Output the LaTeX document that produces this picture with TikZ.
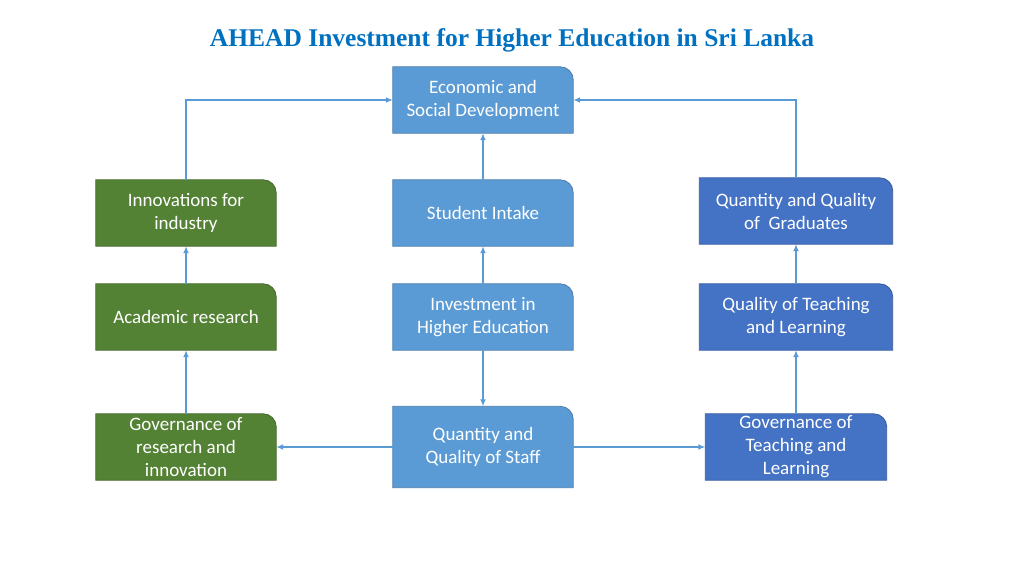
\documentclass[tikz,border=0pt]{standalone}
\usepackage{fontspec}
\setmainfont{Carlito}
\newfontfamily\titlefont{Liberation Serif}
\usetikzlibrary{arrows.meta,backgrounds}
\definecolor{lightblue}{HTML}{5B9BD5}
\definecolor{darkblue}{HTML}{4472C4}
\definecolor{leafgreen}{HTML}{548235}
\definecolor{titleblue}{HTML}{0070C0}

\begin{document}
\begin{tikzpicture}[x=1pt,y=-1pt,
  box/.style={minimum width=180pt,minimum height=66pt,inner sep=0pt,align=center,
    text=white,font=\fontsize{19}{23}\selectfont},
  link/.style={draw=lightblue,line width=1.6pt,-{Latex[length=7pt,width=6pt]}}]
\useasboundingbox (0,0) rectangle (1024,575);

\node[font=\titlefont\bfseries\fontsize{25.5}{30}\selectfont,text=titleblue] (title) at (512,40) {AHEAD Investment for Higher Education in Sri Lanka};

\node[box] (econ) at (483,100) {Economic and\\Social Development};
\node[box] (innov) at (186,213) {Innovations for\\industry};
\node[box] (intake) at (483,213) {Student Intake};
\node[box,minimum width=193pt] (grad) at (796,211) {Quantity and Quality\\of~ Graduates};
\node[box] (acad) at (186,317) {Academic research};
\node[box] (invest) at (483,317) {Investment in\\Higher Education};
\node[box,minimum width=193pt] (qtl) at (796,317) {Quality of Teaching\\and Learning};
\node[box] (govres) at (186,447) {Governance of\\research and\\innovation};
\node[box,minimum height=81pt] (staff) at (483,447) {Quantity and\\Quality of Staff};
\node[box,minimum width=181pt] (govtl) at (796,447) {Governance of\\Teaching and\\Learning};

% boxes with one rounded corner
\begin{scope}[on background layer]
\foreach \n/\c in {econ/lightblue,intake/lightblue,invest/lightblue,staff/lightblue,
  innov/leafgreen,acad/leafgreen,govres/leafgreen,
  grad/darkblue,qtl/darkblue,govtl/darkblue}
  \draw[fill=\c,draw=\c!80!black,line width=0.8pt] (\n.south west) -- (\n.north west)
    -- ([xshift=-13pt]\n.north east)
    .. controls ([xshift=-5.8pt]\n.north east) and ([yshift=-5.8pt]\n.north east) .. ([yshift=-13pt]\n.north east)
    -- (\n.south east) -- cycle;
\end{scope}

\draw[link] (innov.north) |- (econ.west);
\draw[link] (grad.north) |- (econ.east);
\draw[link] (intake.north) -- (econ.south);
\draw[link] (invest.north) -- (intake.south);
\draw[link] (invest.south) -- (staff.north);
\draw[link] (staff.west) -- (govres.east);
\draw[link] (staff.east) -- (govtl.west);
\draw[link] (acad.north) -- (innov.south);
\draw[link] (govres.north) -- (acad.south);
\draw[link] (govtl.north) -- (qtl.south);
\draw[link] (qtl.north) -- (grad.south);
\end{tikzpicture}
\end{document}
